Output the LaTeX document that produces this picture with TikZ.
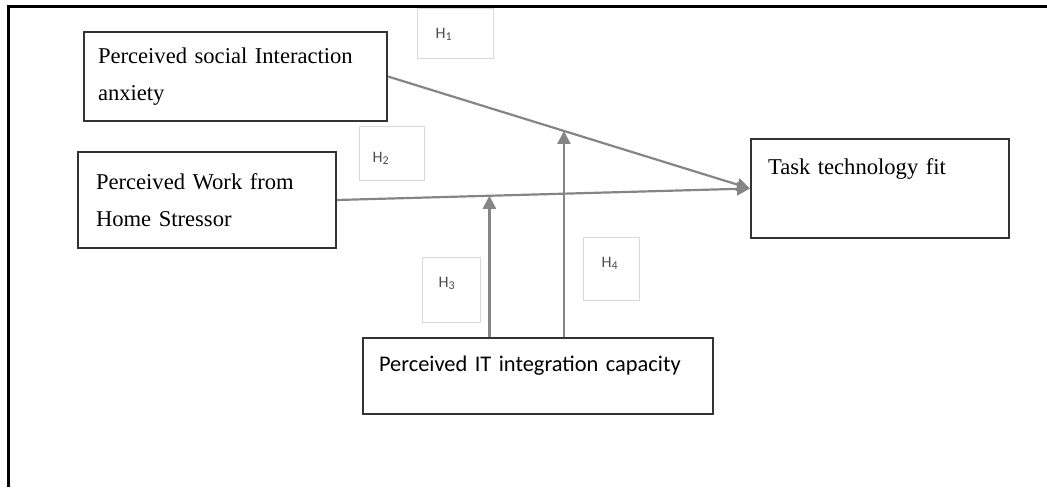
\documentclass[tikz,border=0pt]{standalone}
\usepackage{fontspec}
\setmainfont{Liberation Serif}
\newfontfamily\calibri{Carlito}
\usetikzlibrary{arrows.meta}

\tikzset{
  factor/.style={draw=black!80, line width=1pt, anchor=north west, inner ysep=0pt,
    align=left, font=\fontsize{11.3}{18.5}\selectfont},
  hyp/.style={draw=black!15, line width=0.6pt, anchor=north west, inner ysep=0pt,
    align=left, text=black!70, font=\calibri\fontsize{8}{9}\selectfont},
  link/.style={draw=black!48, line width=1.1pt, -{Triangle[length=6.5pt,width=6.5pt]}}
}

\begin{document}
\begin{tikzpicture}[x=0.5pt, y=-0.5pt]
  \useasboundingbox (0,0) rectangle (1047,487);
  % frame
  \draw[line width=1.5pt] (8,487) -- (8,6) -- (1047,6);

  % constructs
  \node[factor, minimum height=44.5pt, inner xsep=7pt, text width=137.5pt] (anx) at (83,31)
    {Perceived social Interaction\\anxiety};
  \node[factor, minimum height=48pt, inner xsep=9pt, text width=111pt] (wfh) at (77,151)
    {Perceived Work from\\Home Stressor};
  \node[factor, inner xsep=8.5pt, text width=112pt, text height=17.5pt, text depth=32pt] (ttf) at (750,138)
    {Task technology fit};
  \node[factor, font=\calibri\fontsize{11.2}{13}\selectfont, inner xsep=8pt, text width=159pt,
    text height=16.5pt, text depth=21.5pt] (itc) at (362,337)
    {Perceived IT integration capacity};

  % hypothesis labels
  \node[hyp, inner xsep=9pt, text width=20pt, text height=15pt, text depth=10pt] (h1) at (417,8) {H\textsubscript{1}};
  \node[hyp, inner xsep=6.5pt, text width=19.5pt, text height=18pt, text depth=9pt] (h2) at (359,126) {H\textsubscript{2}};
  \node[hyp, inner xsep=8pt, text width=13pt, text height=15pt, text depth=17.5pt] (h3) at (422,257) {H\textsubscript{3}};
  \node[hyp, inner xsep=9pt, text width=10pt, text height=15pt, text depth=16.5pt] (h4) at (583,237) {H\textsubscript{4}};

  % direct effects
  \draw[link] (anx.east) -- coordinate[pos=0.486] (m4) (ttf.west);
  \draw[link] (wfh.east) -- coordinate[pos=0.369] (m3) (ttf.west);

  % moderation
  \draw[link] (itc.north -| m3) -- (m3);
  \draw[link] (itc.north -| m4) -- (m4);
\end{tikzpicture}
\end{document}
